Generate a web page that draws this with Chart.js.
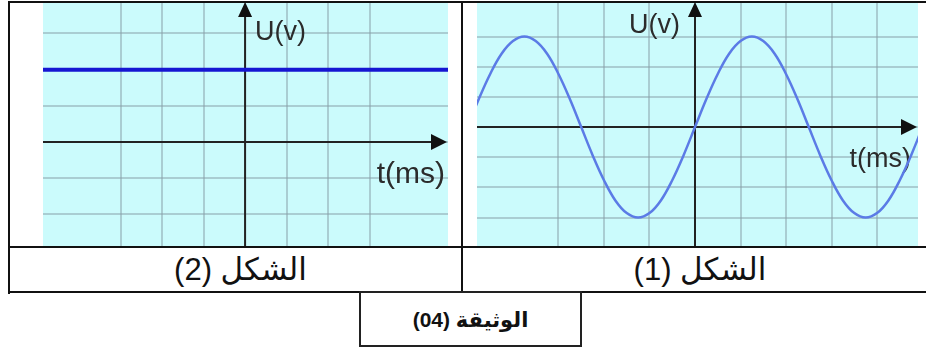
<!DOCTYPE html>
<html>
<head>
<meta charset="utf-8">
<script src="https://cdn.jsdelivr.net/npm/chart.js@4.4.1/dist/chart.umd.min.js"></script>
<style>
  body { margin: 0; background: #fff; width: 926px; height: 351px; overflow: hidden; position: relative;
         font-family: "Liberation Sans", "DejaVu Sans", sans-serif; }
  .ln { position: absolute; background: #111; }
  .plot { position: absolute; }
  .cap { position: absolute; text-align: center; color: #111; font-size: 31px; }
  #doc-box { position: absolute; left: 359px; top: 291px; width: 219px; height: 52px;
             border: 2px solid #222; text-align: center; line-height: 54px;
             font-size: 21px; font-weight: bold; color: #111; }
</style>
</head>
<body>
<div class="ln" style="left:8px;top:1px;width:918px;height:2px"></div>
<div class="ln" style="left:8px;top:1px;width:2px;height:293px"></div>
<div class="ln" style="left:461px;top:1px;width:2px;height:292px"></div>
<div class="ln" style="left:8px;top:246px;width:918px;height:2px"></div>
<div class="ln" style="left:8px;top:291px;width:918px;height:2px"></div>

<div class="plot" style="left:43px;top:3px"><canvas id="chart-dc" width="405" height="243"></canvas></div>
<div class="plot" style="left:477px;top:3px"><canvas id="chart-ac" width="441" height="243"></canvas></div>

<div class="cap" dir="rtl" style="left:14px;top:248px;width:453px;height:43px;line-height:43px">الشكل (2)</div>
<div class="cap" dir="rtl" style="left:470px;top:248px;width:460px;height:43px;line-height:43px">الشكل (1)</div>
<div id="doc-box" dir="rtl">الوثيقة (04)</div>

<script>
// figure 2 : constant voltage (in grid divisions)
const dcTimes = [-5, 5];
const dcVoltage = [2, 2];

// figure 1 : alternating voltage read every quarter division
const sineTimes = [-5, -4.75, -4.5, -4.25, -4, -3.75, -3.5, -3.25, -3, -2.75, -2.5, -2.25, -2, -1.75, -1.5,
  -1.25, -1, -0.75, -0.5, -0.25, 0, 0.25, 0.5, 0.75, 1, 1.25, 1.5, 1.75, 2, 2.25, 2.5, 2.75, 3, 3.25, 3.5,
  3.75, 4, 4.25, 4.5, 4.75, 5];
const sineVoltage = [0, 0.93, 1.76, 2.43, 2.85, 3, 2.85, 2.43, 1.76, 0.93, 0, -0.93, -1.76, -2.43, -2.85,
  -3, -2.85, -2.43, -1.76, -0.93, 0, 0.93, 1.76, 2.43, 2.85, 3, 2.85, 2.43, 1.76, 0.93, 0, -0.93, -1.76,
  -2.43, -2.85, -3, -2.85, -2.43, -1.76, -0.93, 0];

const gridColor = (ctx) => {
  const v = ctx.tick.value;
  return Math.abs(v - Math.round(v)) < 0.001 ? "rgba(135,160,168,0.5)" : "rgba(0,0,0,0)";
};

// cyan paper, axes with arrow heads and the axis names
const scopePlugin = {
  id: "scope",
  beforeDraw(chart) {
    const { ctx, chartArea: a } = chart;
    ctx.save();
    ctx.fillStyle = "#cbfbfc";
    ctx.fillRect(a.left, a.top, a.right - a.left, a.bottom - a.top);
    ctx.restore();
  },
  beforeDatasetsDraw(chart, args, opts) {
    const { ctx, chartArea: a, scales } = chart;
    const x0 = scales.x.getPixelForValue(0);
    const y0 = scales.y.getPixelForValue(0);
    ctx.save();
    ctx.strokeStyle = "#222";
    ctx.fillStyle = "#111";
    ctx.lineWidth = 2;
    ctx.beginPath();
    ctx.moveTo(a.left, y0);
    ctx.lineTo(a.right - 10, y0);
    ctx.moveTo(x0, a.bottom);
    ctx.lineTo(x0, a.top + 10);
    ctx.stroke();
    // arrow heads
    ctx.beginPath();
    ctx.moveTo(a.right - 1, y0);
    ctx.lineTo(a.right - 17, y0 - 8);
    ctx.lineTo(a.right - 17, y0 + 8);
    ctx.closePath();
    ctx.moveTo(x0, a.top - 1);
    ctx.lineTo(x0 - 7, a.top + 14);
    ctx.lineTo(x0 + 7, a.top + 14);
    ctx.closePath();
    ctx.fill();
    // labels
    ctx.fillStyle = "#2b2b2b";
    ctx.textBaseline = "alphabetic";
    ctx.font = opts.yFont + ' "Liberation Sans", Arial, sans-serif';
    ctx.textAlign = opts.yAlign;
    ctx.fillText("U(v)", x0 + opts.yDx, a.top + opts.yTop);
    ctx.font = opts.xFont + ' "Liberation Sans", Arial, sans-serif';
    ctx.textAlign = "right";
    ctx.fillText("t(ms)", a.right - opts.xRight, y0 + opts.xDy);
    ctx.restore();
  },
};

function scopeChart(id, times, volts, lineOpts, range, labelOpts) {
  return new Chart(id, {
    type: "line",
    data: {
      datasets: [
        Object.assign({
          data: times.map((t, i) => ({ x: t, y: volts[i] })),
          pointRadius: 0,
          fill: false,
        }, lineOpts),
      ],
    },
    options: {
      responsive: false,
      animation: false,
      layout: { padding: 0 },
      plugins: { legend: { display: false }, tooltip: { enabled: false }, scope: labelOpts },
      scales: {
        x: {
          type: "linear", min: range.xmin, max: range.xmax,
          ticks: { display: false, stepSize: 1 },
          grid: { color: gridColor, lineWidth: 2, drawTicks: false },
          border: { display: false },
          afterFit: (s) => { s.height = 0; },
        },
        y: {
          min: range.ymin, max: range.ymax,
          ticks: { display: false, stepSize: 1 },
          grid: { color: gridColor, lineWidth: 2, drawTicks: false },
          border: { display: false },
          afterFit: (s) => { s.width = 0; },
        },
      },
    },
    plugins: [scopePlugin],
  });
}

scopeChart("chart-dc", dcTimes, dcVoltage,
  { borderColor: "#1616d2", borderWidth: 4 },
  { xmin: -4.87, xmax: 4.89, ymin: -2.87, ymax: 3.84 },
  { yFont: "27px", yAlign: "left", yDx: 10, yTop: 37, xFont: "30px", xRight: 3, xDy: 41 });

scopeChart("chart-ac", sineTimes, sineVoltage,
  { borderColor: "#5b7be6", borderWidth: 2.5, tension: 0.4 },
  { xmin: -4.79, xmax: 4.9, ymin: -3.94, ymax: 4.11 },
  { yFont: "27px", yAlign: "right", yDx: -15, yTop: 30, xFont: "27px", xRight: 7, xDy: 40 });
</script>
</body>
</html>
